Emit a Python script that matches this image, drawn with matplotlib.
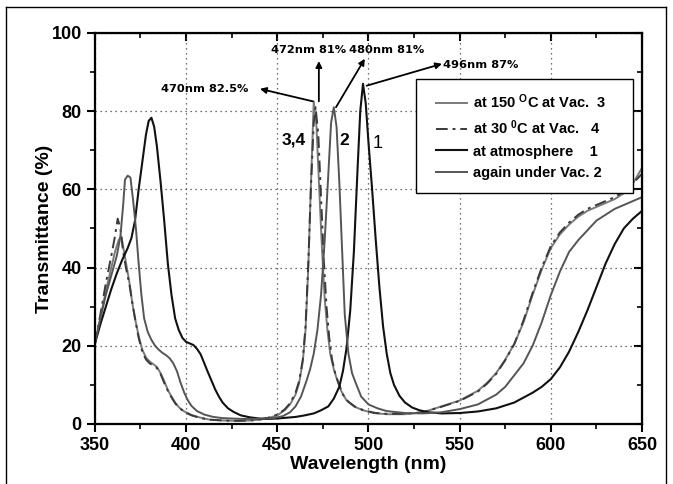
import numpy as np
import matplotlib
matplotlib.use("Agg")
import matplotlib.pyplot as plt
from matplotlib.lines import Line2D
from matplotlib.legend_handler import HandlerLine2D

plt.rcParams['font.family'] = ['Liberation Sans', 'DejaVu Sans']
plt.rcParams['mathtext.fontset'] = 'custom'
plt.rcParams['mathtext.rm'] = 'Liberation Sans:bold'
plt.rcParams['mathtext.bf'] = 'Liberation Sans:bold'
plt.rcParams['mathtext.default'] = 'rm'

# -----------------------------
# Data
# -----------------------------
# curve 1: at atmosphere
wl1 = [350, 353, 356, 359, 362, 365, 368, 370, 372, 374, 376, 378, 379.5, 381, 382.5,
       384, 386, 388, 390, 392, 394, 396, 398, 400, 402, 404, 406, 408, 410, 412, 414,
       416, 418, 420, 423, 426, 430, 435, 440, 445, 450, 455, 460, 465, 470, 474, 478,
       481, 484, 486, 488, 490, 492, 494, 495.5, 497, 498.5, 500, 502, 504, 506, 508,
       510, 512, 514, 517, 520, 524, 528, 533, 540, 550, 560, 570, 580, 590, 595, 600,
       605, 610, 615, 620, 625, 630, 635, 640, 645, 650]
t1 = [20.5, 25.5, 30, 34.5, 38.5, 42, 45, 47.5, 52, 60, 67, 74, 77.5, 78.3, 76,
      71, 62, 52, 41, 33, 27, 24, 22, 21, 20.6, 20.2, 19.2, 17.8, 15.5, 13.2, 11,
      8.8, 7, 5.5, 4, 3.1, 2.2, 1.7, 1.4, 1.3, 1.4, 1.6, 1.8, 2.2, 2.7, 3.5, 4.5,
      6.5, 9.5, 13.5, 19.5, 29, 44, 65, 80, 87, 82, 72, 60, 47, 35, 25,
      18, 13, 10, 7.2, 5.5, 4.2, 3.5, 3, 2.7, 2.8, 3.2, 4, 5.5, 8, 9.5, 11.5,
      14.5, 18.5, 23.5, 29, 35, 41, 46, 50, 52.5, 54.5]

# curve 2: again under Vac.
wl2 = [350, 353, 356, 359, 362, 364, 365.5, 366.5, 368, 369.5, 371, 372.5, 374, 375.5,
       377, 379, 381, 383, 385, 387, 389, 391, 393, 395, 397, 399, 401, 403, 406, 410,
       415, 420, 430, 440, 448, 453, 457, 460, 463, 466, 468, 470, 472, 474, 476, 478,
       479.5, 481, 482.5, 484, 485.5, 487, 489, 491, 493, 496, 500, 505, 510, 520, 530,
       540, 550, 560, 570, 575, 580, 585, 590, 595, 600, 605, 610, 615, 620, 625, 630,
       635, 640, 645, 650]
t2 = [20.5, 27, 33, 38, 43, 48, 56, 62.5, 63.5, 63, 57, 50, 41, 33,
      27, 23.5, 21.5, 20, 19, 18.2, 17.6, 16.8, 15.5, 13.5, 10.5, 8, 6, 4.6, 3.3, 2.4,
      1.8, 1.5, 1.3, 1.3, 1.5, 2, 3, 4.5, 7, 11, 14, 18, 24, 33, 47, 64,
      77, 81, 76, 62, 45, 28, 18, 13, 10.5, 7, 5, 4, 3.3, 2.8, 2.7,
      3, 3.8, 5, 7.5, 9.5, 12.5, 15.5, 20, 26, 33, 39, 44, 47, 49.5, 52, 53.5,
      55, 56, 57, 58]

# curve 3: at 150 C at Vac.
wl3 = [350, 353, 356, 359, 361, 363, 364.5, 366, 367.5, 369, 370.5, 372, 374, 376, 378,
       380, 382, 384, 386, 388, 390, 392, 394, 396, 399, 403, 408, 413, 420, 428, 435,
       440, 445, 450, 454, 457, 460, 462, 464, 465.5, 467, 468.5, 470, 471.5, 473,
       474.5, 476, 477.5, 479, 481, 483, 485, 488, 492, 497, 503, 510, 520, 530, 540,
       550, 560, 565, 570, 575, 580, 585, 590, 595, 600, 605, 610, 615, 620, 625, 630,
       635, 640, 645, 650]
t3 = [20.5, 27, 34, 40, 44, 47, 48, 44, 40, 36, 31, 27, 22.5, 19, 17,
      16, 15.3, 14.6, 13, 11, 8.7, 7, 5.5, 4.3, 3.2, 2.3, 1.6, 1.1, 0.9, 0.8, 0.9,
      1.1, 1.5, 2.2, 3.5, 5, 7.5, 10.5, 16, 24, 40, 62, 82.5, 76, 60,
      45, 32, 24, 18, 14, 11, 8.5, 6, 4.5, 3.5, 2.8, 2.5, 2.5, 3, 4.5,
      6, 8.5, 10.5, 13, 16.5, 20.5, 26, 33, 39.5, 45, 48.5, 51, 53, 54.5, 55.5, 56.5,
      57.5, 59, 61.5, 65.5]

# curve 4: at 30 C at Vac.
wl4 = [350, 353, 356, 359, 361, 362.5, 364, 365.5, 367, 369, 370.5, 372, 374, 376, 378,
       380, 382, 384, 386, 388, 390, 392, 394, 396, 399, 403, 408, 413, 420, 428, 435,
       440, 445, 450, 454, 457, 460, 462, 464, 465.5, 467, 468.5, 470, 471, 472.5, 474,
       475.5, 477, 478.5, 480, 482, 484, 486, 489, 493, 498, 504, 510, 520, 530, 540,
       550, 560, 565, 570, 575, 580, 585, 590, 595, 600, 605, 610, 615, 620, 625, 630,
       635, 640, 645, 650]
t4 = [20.5, 28, 36, 43, 48, 52.5, 50, 44, 40, 35.5, 31, 27, 22, 18.5, 16.5,
      15.5, 15, 14.3, 12.8, 10.5, 8.5, 6.8, 5.3, 4.2, 3.1, 2.2, 1.5, 1.1, 0.9, 0.8, 0.9,
      1.1, 1.6, 2.4, 3.7, 5.3, 8, 11, 16.5, 25, 41, 61, 77, 81, 74, 58,
      42, 30, 22, 16.5, 12.5, 10, 7.5, 5.7, 4.3, 3.4, 2.8, 2.6, 2.6, 3, 4.4,
      5.9, 8.3, 10.3, 12.8, 16.3, 20.5, 26.5, 33.5, 40, 45.5, 49, 51.5, 53.5, 55, 56, 57,
      58, 59.5, 61.5, 64]

# peak annotations
ann_text = ["470nm 82.5%", "472nm 81%", "480nm 81%", "496nm 87%"]
ann_peak = [(469.5, 82.5), (472.8, 82.5), (482.2, 81.0), (499.0, 86.5)]
ann_tail = [(440.5, 85.7), (472.8, 92.8), (498.0, 93.4), (540.3, 92.1)]
ann_pos = [(386.0, 85.7), (446.5, 95.6), (489.3, 95.6), (540.8, 91.8)]

# -----------------------------
# Plot
# -----------------------------
fig = plt.figure(figsize=(6.73, 4.84), dpi=100)
ax = fig.add_axes([0.141, 0.124, 0.813, 0.808])

l3, = ax.plot(wl3, t3, color='#7a7a7a', lw=1.4, label=r'at 150 $^{\mathrm{O}}$C at Vac.  3')
l4, = ax.plot(wl4, t4, color='#3a3a3a', lw=1.4, ls=(0, (6, 2.5, 1.5, 2.5)),
              label=r'at 30 $^{\mathrm{0}}$C at Vac.   4')
l1, = ax.plot(wl1, t1, color='#111111', lw=1.5, label='at atmosphere    1')
l2, = ax.plot(wl2, t2, color='#555555', lw=1.4, label='again under Vac. 2')

ax.set_xlim(350, 650)
ax.set_ylim(0, 100)
ax.set_xticks(np.arange(350, 651, 50))
ax.set_yticks(np.arange(0, 101, 20))
ax.set_xticks(np.arange(375, 650, 50), minor=True)
ax.set_yticks(np.arange(10, 100, 20), minor=True)
ax.grid(True, which='major', color='#444444', ls=(0, (1, 3)), lw=0.9)
ax.tick_params(which='major', direction='out', length=6, width=1.5, labelsize=13)
ax.tick_params(which='minor', direction='out', length=3.5, width=1.2)
for lab in ax.get_xticklabels() + ax.get_yticklabels():
    lab.set_fontweight('bold')
for s in ax.spines.values():
    s.set_linewidth(1.6)

# top and right ticks point inward
top = ax.secondary_xaxis('top')
top.set_xticks(np.arange(350, 651, 50))
top.set_xticks(np.arange(375, 650, 50), minor=True)
top.tick_params(which='major', direction='in', length=6, width=1.5, labeltop=False)
top.tick_params(which='minor', direction='in', length=3.5, width=1.2)
right = ax.secondary_yaxis('right')
right.set_yticks(np.arange(0, 101, 20))
right.set_yticks(np.arange(10, 100, 20), minor=True)
right.tick_params(which='major', direction='in', length=6, width=1.5, labelright=False)
right.tick_params(which='minor', direction='in', length=3.5, width=1.2)

ax.set_xlabel('Wavelength (nm)', fontsize=14, fontweight='bold', labelpad=1)
ax.set_ylabel('Transmittance (%)', fontsize=14, fontweight='bold', labelpad=-1)

for txt, pk, tl, pos in zip(ann_text, ann_peak, ann_tail, ann_pos):
    ax.annotate('', xy=tl, xytext=pk,
                arrowprops=dict(arrowstyle='-|>', color='black', lw=1.3,
                                mutation_scale=9, shrinkA=0, shrinkB=0))
    ax.text(pos[0], pos[1], txt, fontsize=8.2, fontweight='bold',
            family='DejaVu Sans', va='center', ha='left')

ax.text(459, 72.5, '3,4', fontsize=12.5, fontweight='bold', ha='center', va='center')
ax.text(486.5, 72.5, '2', fontsize=12.5, fontweight='bold', ha='center', va='center')
ax.text(505, 71.8, '1', fontsize=13, ha='center', va='center')

leg = ax.legend(handles=[l3, l4, l1, l2], loc='upper left',
                bbox_to_anchor=(0.587, 0.598, 0.397, 0.284), mode='expand',
                borderaxespad=0, fancybox=False, framealpha=1, edgecolor='black',
                prop={'size': 10.5, 'weight': 'bold'}, handlelength=2.6,
                handletextpad=0.4, labelspacing=0.52, borderpad=0.9,
                handler_map={Line2D: HandlerLine2D(xpad=0.5)})
leg.get_frame().set_linewidth(1.0)

# outer frame of the picture
for xs, ys in [((0.009, 0.009), (0.0, 0.986)), ((0.009, 0.989), (0.986, 0.986)),
               ((0.989, 0.989), (0.0, 0.986))]:
    fig.add_artist(Line2D(xs, ys, transform=fig.transFigure, color='black', lw=1))

fig.savefig('out.png', dpi=100)
